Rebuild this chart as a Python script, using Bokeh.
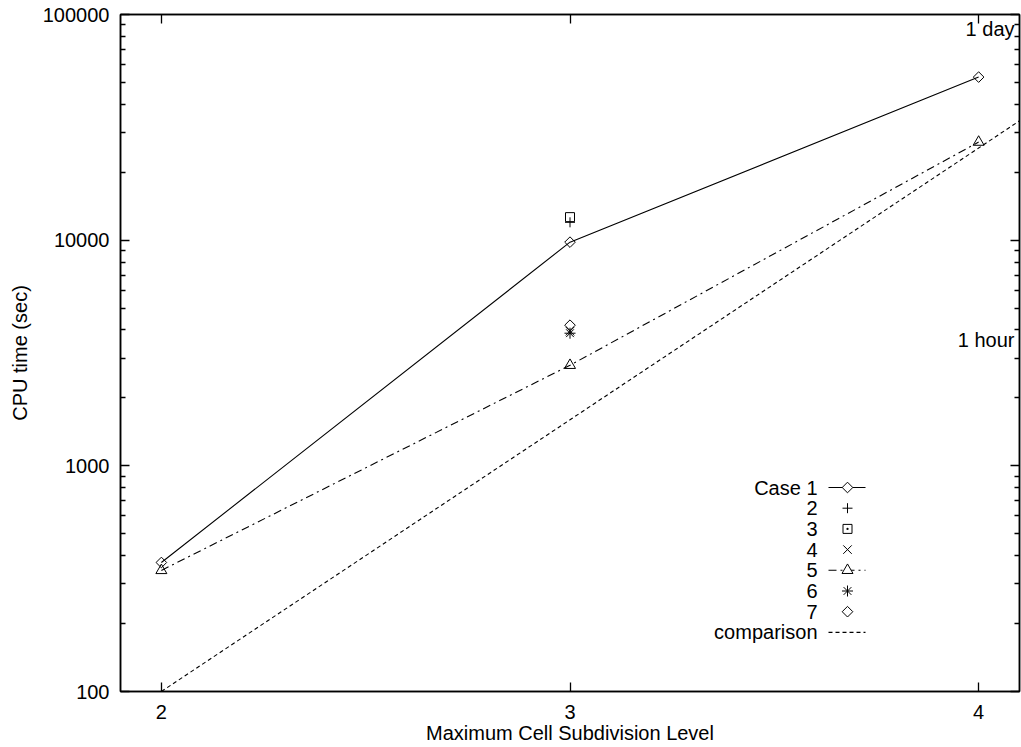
import numpy as np
from bokeh.plotting import figure
from bokeh.models import LogAxis, LinearAxis, FixedTicker, Range1d, NumeralTickFormatter
from bokeh.core.properties import value
from bokeh.embed import file_html
from bokeh.resources import INLINE

# ---------------- data ----------------
levels = [2, 3, 4]
case1 = [373, 9800, 52800]
case5 = [344, 2790, 27200]
single_x = [3]
case2 = [12000]
case3 = [12650]
case4 = [3950]
case6 = [3870]
case7 = [4200]
comparison_x = [2, 3, 4, 4.1]
comparison = [100, 1600, 25600, 33800]
y2_values = [3600, 86400]
y2_labels = ["1 hour", "1 day"]
legend_labels = ["Case 1", "2", "3", "4", "5", "6", "7", "comparison"]
x_ticks = [2, 3, 4]
y_ticks = [100, 1000, 10000, 100000]

# ---------------- layout / style ----------------
FONT = "Liberation Sans"
FS = "20px"
X0, X1 = 1.9, 4.1
Y0, Y1 = 100, 100000
FRAME_L, FRAME_B = 120, 691   # page pixel coords of frame
FW, FH = 899, 677

def dx(sx):
    return X0 + (sx - FRAME_L) / FW * (X1 - X0)

def dy(sy):
    return 10 ** (np.log10(Y0) + (FRAME_B - sy) / FH * (np.log10(Y1) - np.log10(Y0)))

p = figure(frame_width=FW, frame_height=FH, y_axis_type="log",
           x_range=Range1d(X0, X1), y_range=Range1d(Y0, Y1),
           output_backend="svg", toolbar_location=None,
           min_border_left=120, min_border_right=2, min_border_top=14, min_border_bottom=50)
p.grid.visible = False
p.outline_line_color = "black"
p.outline_line_width = 1.5
p.background_fill_color = "white"
p.border_fill_color = "white"

minor = [m * d for d in [100, 1000, 10000] for m in range(2, 10)]
yticker = FixedTicker(ticks=y_ticks, minor_ticks=minor)
xticker = FixedTicker(ticks=x_ticks, minor_ticks=[])

def style_axis(ax):
    ax.axis_line_color = "black"
    ax.axis_line_width = 1.5
    ax.major_tick_line_color = "black"
    ax.major_tick_line_width = 1.3
    ax.minor_tick_line_color = "black"
    ax.minor_tick_line_width = 1.3
    ax.major_tick_in = 9
    ax.major_tick_out = 0
    ax.minor_tick_in = 5
    ax.minor_tick_out = 0
    ax.major_label_text_font = FONT
    ax.major_label_text_font_size = FS
    ax.major_label_text_color = "black"
    ax.axis_label_text_font = FONT
    ax.axis_label_text_font_size = FS
    ax.axis_label_text_font_style = "normal"
    ax.axis_label_text_color = "black"

ya = p.yaxis[0]
ya.ticker = yticker
ya.formatter = NumeralTickFormatter(format="0")
ya.axis_label = "CPU time (sec)"
style_axis(ya)
ya.major_label_standoff = 11
ya.axis_label_standoff = 9

xa = p.xaxis[0]
xa.ticker = xticker
xa.axis_label = "Maximum Cell Subdivision Level"
style_axis(xa)
xa.major_label_standoff = 13
xa.axis_label_standoff = 0

# mirrored tick marks (no labels) on top and right
top = LinearAxis(ticker=xticker)
style_axis(top)
top.major_label_text_alpha = 0
top.major_label_text_font_size = "1px"
top.major_label_standoff = 0
p.add_layout(top, "above")
right = LogAxis(ticker=yticker)
style_axis(right)
right.major_label_text_alpha = 0
right.major_label_text_font_size = "1px"
right.major_label_standoff = 0
p.add_layout(right, "right")

# ---------------- series ----------------
LW = 1.1
p.line(levels, case1, line_color="black", line_width=LW)
p.scatter(levels, case1, marker="square", angle=np.pi / 4, size=7.5,
          fill_color=None, line_color="black", line_width=1)
p.line(levels, case5, line_color="black", line_width=LW, line_dash="8 4 2 4")
p.scatter(levels, case5, marker="triangle", size=11,
          fill_color=None, line_color="black", line_width=1)
p.scatter(single_x, case2, marker="cross", size=10, line_color="black", line_width=1)
p.scatter(single_x, case3, marker="square", size=9, fill_color=None, line_color="black", line_width=1)
p.scatter(single_x, case4, marker="x", size=12, line_color="black", line_width=1)
p.scatter(single_x, case6, marker="asterisk", size=11, line_color="black", line_width=1)
p.scatter(single_x, case7, marker="square", angle=np.pi / 4, size=7.5,
          fill_color=None, line_color="black", line_width=1)
p.line(comparison_x, comparison, line_color="black", line_width=LW, line_dash="4 3")

# right-hand time labels
p.text(x=[X1] * len(y2_values), y=y2_values, text=y2_labels, x_offset=-5,
       text_align="right", text_baseline="middle", text_color="black",
       text_font=value(FONT), text_font_size=FS)

# ---------------- legend (gnuplot style) ----------------
rows = [487 + 20.7 * i for i in range(len(legend_labels))]
p.text(x=[dx(817)] * len(rows), y=[dy(r) for r in rows], text=legend_labels,
       text_align="right", text_baseline="middle", text_color="black",
       text_font=value(FONT), text_font_size=FS)
lx0, lx1, lxm = dx(828), dx(865), dx(847)
p.line([lx0, lx1], [dy(rows[0])] * 2, line_color="black", line_width=LW)
p.line([lx0, lx1], [dy(rows[4])] * 2, line_color="black", line_width=LW, line_dash="8 4 2 4")
p.line([lx0, lx1], [dy(rows[7])] * 2, line_color="black", line_width=LW, line_dash="4 3")
mk = dict(line_color="black", line_width=1)
p.scatter([lxm], [dy(rows[0])], marker="square", angle=np.pi / 4, size=7.5, fill_color="white", **mk)
p.scatter([lxm], [dy(rows[1])], marker="cross", size=10, **mk)
p.scatter([lxm], [dy(rows[2])], marker="square_dot", size=9, fill_color=None, **mk)
p.scatter([lxm], [dy(rows[3])], marker="x", size=12, **mk)
p.scatter([lxm], [dy(rows[4])], marker="triangle", size=11, fill_color="white", **mk)
p.scatter([lxm], [dy(rows[5])], marker="asterisk", size=11, **mk)
p.scatter([lxm], [dy(rows[6])], marker="square", angle=np.pi / 4, size=7.5, fill_color=None, **mk)

open("out.html", "w").write(file_html(p, INLINE))
